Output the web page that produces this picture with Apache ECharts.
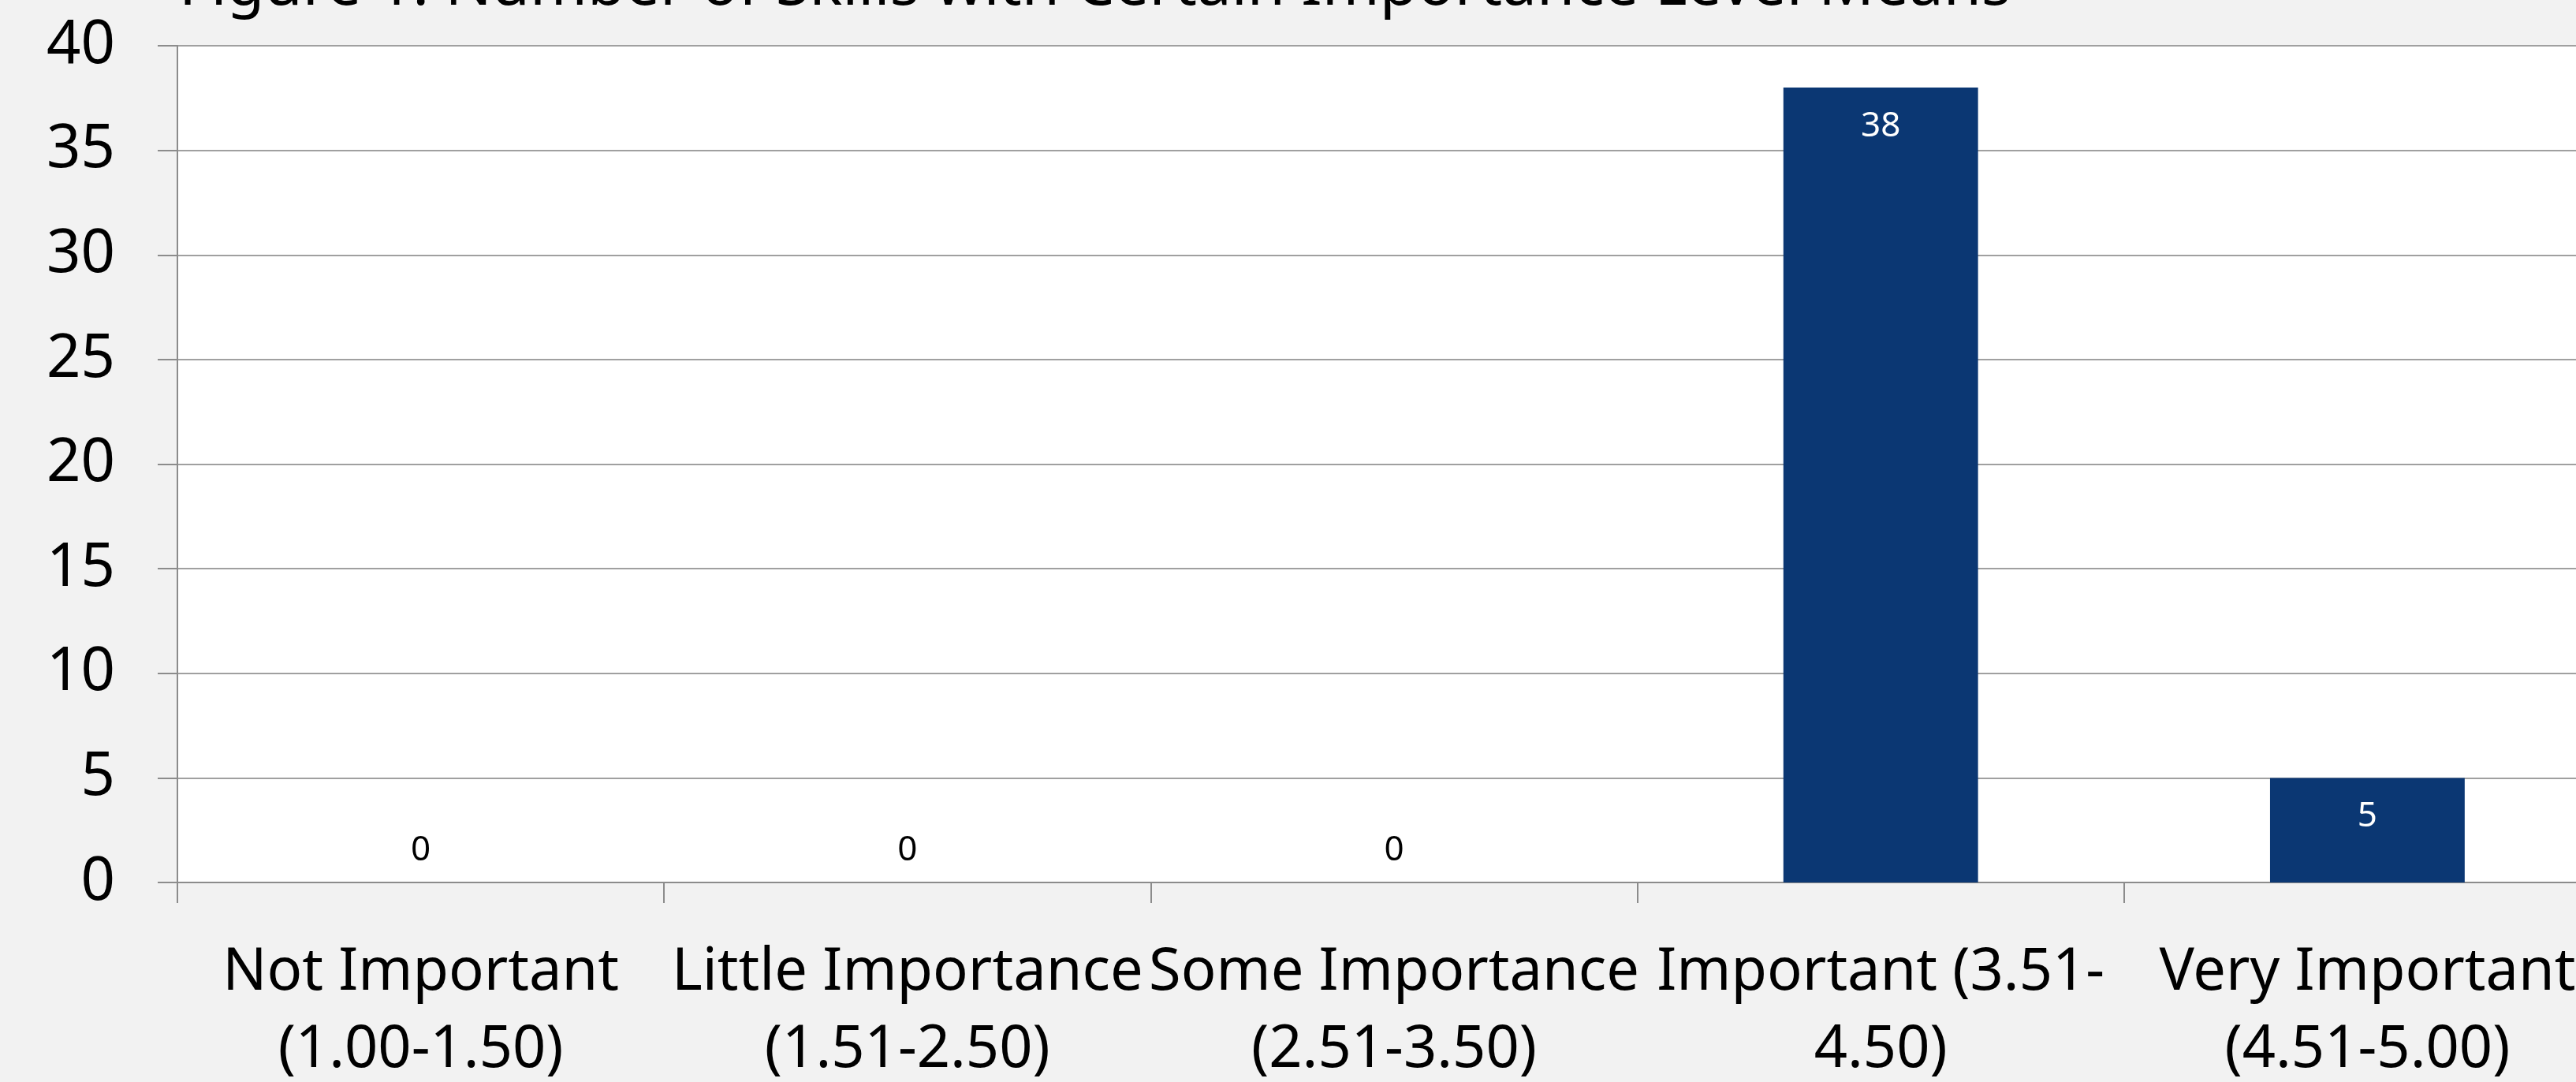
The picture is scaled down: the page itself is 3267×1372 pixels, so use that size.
<!DOCTYPE html>
<html>
<head>
<meta charset="utf-8">
<script src="https://cdn.jsdelivr.net/npm/echarts@6/dist/echarts.min.js"></script>
<style>
  html, body { margin: 0; padding: 0; background: #F2F2F2; }
  #chart { width: 3267px; height: 1372px; }
</style>
</head>
<body>
<div id="chart"></div>
<script>
// Importance-level bins and how many skills fall in each
const categories = [
  'Not Important\n(1.00-1.50)',
  'Little Importance\n(1.51-2.50)',
  'Some Importance\n(2.51-3.50)',
  'Important (3.51-\n4.50)',
  'Very Important\n(4.51-5.00)'
];
const skillCounts = [0, 0, 0, 38, 5];
const yTicks = { min: 0, max: 40, interval: 5 };
const titleText = 'Figure 1. Number of Skills with Certain Importance Level Means';

const FONT = 'Noto Sans';
const BAR = '#0B3773';

const chart = echarts.init(document.getElementById('chart'), null, { renderer: 'canvas' });

// Non-zero bars carry their value inside, zero bars show it just above the axis
const barData = skillCounts.map(v => ({
  value: v,
  label: v > 0
    ? { position: 'insideTop', distance: 27, color: '#FFFFFF' }
    : { position: 'top', distance: 19, color: '#000000' }
}));

chart.setOption({
  backgroundColor: '#F2F2F2',
  animation: false,
  title: {
    text: titleText,
    left: 222,
    top: -60,
    textStyle: { fontFamily: FONT, fontSize: 78, fontWeight: 'normal', color: '#000' }
  },
  grid: {
    left: 225,
    top: 58,
    width: 3086,
    height: 1061,
    show: true,
    backgroundColor: '#FFFFFF',
    borderWidth: 0,
    containLabel: false,
    outerBoundsMode: 'none'
  },
  xAxis: {
    type: 'category',
    data: categories,
    boundaryGap: true,
    axisLine: { show: true, lineStyle: { color: '#8C8C8C', width: 2 } },
    axisTick: { show: true, length: 26, alignWithLabel: false, lineStyle: { color: '#8C8C8C', width: 2 } },
    axisLabel: {
      interval: 0,
      margin: 66,
      fontFamily: FONT,
      fontSize: 74,
      lineHeight: 98,
      color: '#000'
    },
    splitLine: { show: false }
  },
  yAxis: {
    type: 'value',
    min: yTicks.min,
    max: yTicks.max,
    interval: yTicks.interval,
    axisLine: { show: true, lineStyle: { color: '#8C8C8C', width: 2 } },
    axisTick: { show: true, length: 25, lineStyle: { color: '#8C8C8C', width: 2 } },
    axisLabel: {
      margin: 79,
      fontFamily: FONT,
      fontSize: 76,
      color: '#000'
    },
    splitLine: { show: true, lineStyle: { color: '#A0A0A0', width: 2 } }
  },
  series: [{
    type: 'bar',
    data: barData,
    barWidth: '40%',
    itemStyle: { color: BAR },
    label: {
      show: true,
      fontFamily: FONT,
      fontSize: 44
    }
  }]
});
</script>
</body>
</html>
